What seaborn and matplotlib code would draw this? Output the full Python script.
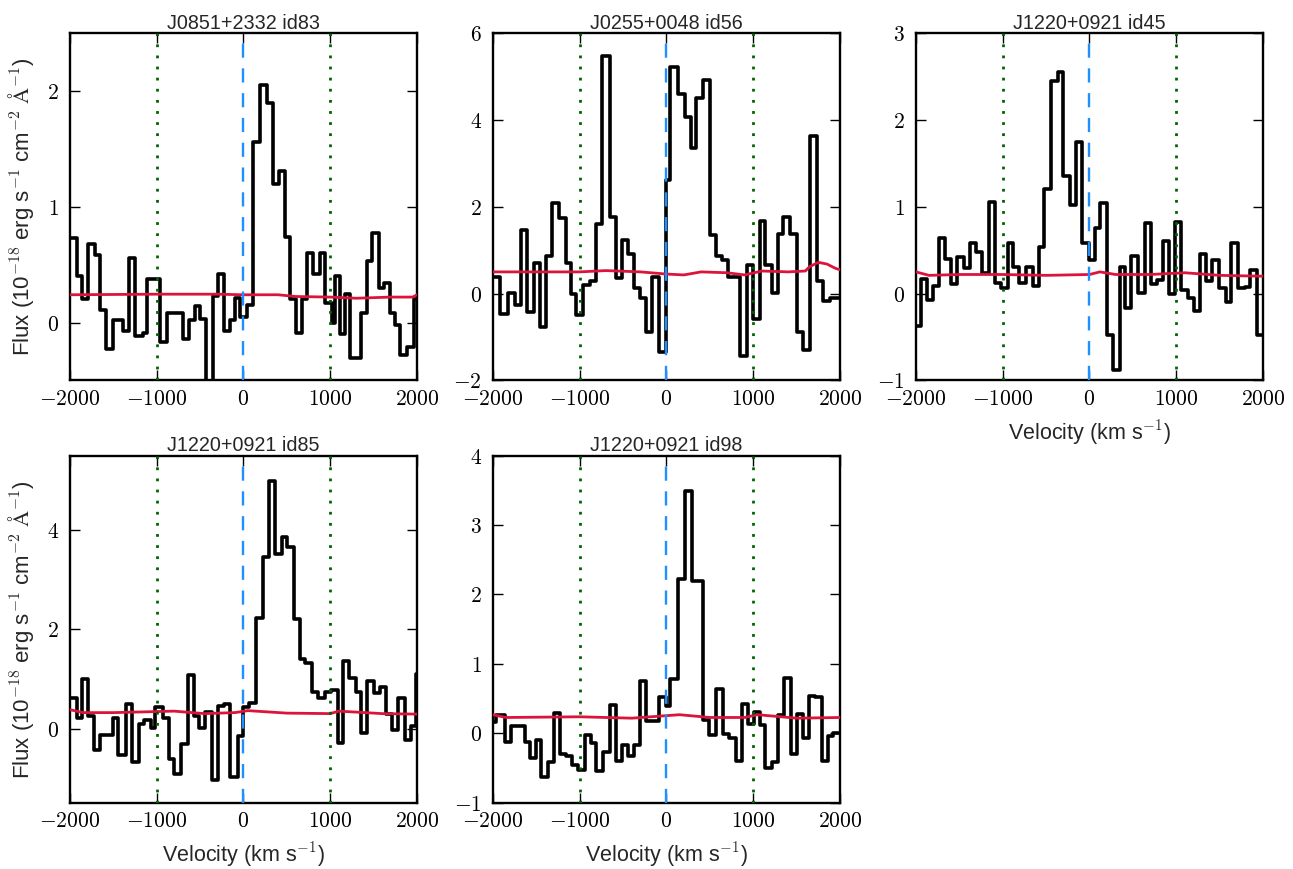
import numpy as np
import pandas as pd
import matplotlib
matplotlib.use("Agg")
import matplotlib.pyplot as plt
import matplotlib.ticker as mticker
import seaborn as sns

# ─────────────────────────────────────────────
# DATA
# ─────────────────────────────────────────────
titles = ["J0851+2332 id83", "J0255+0048 id56", "J1220+0921 id45",
          "J1220+0921 id85", "J1220+0921 id98"]
ylims = [(-0.5, 2.5), (-2, 6), (-1, 3), (-1.5, 5.5), (-1, 4)]
yticks = [[0, 1, 2], [-2, 0, 2, 4, 6], [-1, 0, 1, 2, 3], [0, 2, 4], [-1, 0, 1, 2, 3, 4]]
xticks = [-2000, -1000, 0, 1000, 2000]

# flux: left edge of each bin (km/s) and flux value
vel_83 = [-2000, -1915, -1865, -1788, -1712, -1654, -1585, -1508, -1385, -1315,
          -1250, -1162, -1108, -962, -885, -692, -623, -558, -500, -431,
          -346, -288, -223, -154, -96, -38, 38, 115, 185, 269,
          346, 404, 481, 538, 608, 673, 731, 800, 877, 942,
          1019, 1058, 1115, 1173, 1231, 1358, 1423, 1481, 1558, 1615,
          1692, 1750, 1808, 1885, 1962]
flux_83 = [0.73, 0.40, 0.20, 0.68, 0.58, 0.11, -0.23, 0.02, -0.07, 0.56,
           -0.12, -0.09, 0.38, -0.17, 0.08, -0.14, 0.02, 0.14, 0.03, -0.60,
           0.23, 0.42, -0.07, 0.02, 0.21, 0.05, 0.15, 1.56, 2.05, 1.90,
           1.20, 1.31, 0.74, 0.20, -0.09, 0.20, 0.60, 0.42, 0.60, 0.17,
           0.00, 0.40, -0.10, 0.25, -0.31, 0.08, 0.53, 0.77, 0.30, 0.34,
           0.08, -0.02, -0.28, -0.21, 0.20]

vel_56 = [-2000, -1923, -1827, -1750, -1673, -1604, -1527, -1462, -1392, -1315,
          -1238, -1162, -1096, -1038, -962, -885, -808, -738, -654, -585,
          -508, -442, -377, -308, -238, -162, -85, -5, 46, 135,
          212, 277, 346, 423, 500, 569, 635, 712, 846, 923,
          1000, 1077, 1135, 1212, 1288, 1346, 1423, 1500, 1569, 1654,
          1731, 1800, 1885]
flux_56 = [0.39, -0.46, 0.02, -0.26, 1.47, -0.43, 0.70, -0.76, 0.86, 2.09,
           1.74, 0.70, 0.00, -0.49, 0.20, 0.28, 1.61, 5.47, 1.77, 0.35,
           1.23, 0.92, 0.12, -0.09, -0.88, 0.39, -1.34, 2.61, 5.22, 4.60,
           4.07, 3.36, 4.50, 4.92, 1.36, 0.87, 0.78, 0.39, -1.44, 0.65,
           -0.59, 1.67, 0.65, 0.02, 1.37, 1.77, 1.37, -0.88, -1.29, 3.63,
           0.28, -0.16, -0.11]

vel_45 = [-2000, -1942, -1873, -1808, -1731, -1662, -1596, -1531, -1450, -1377,
          -1308, -1238, -1162, -1085, -1019, -942, -877, -808, -731, -654,
          -577, -519, -442, -365, -300, -223, -154, -85, -8, 58,
          123, 200, 269, 346, 415, 481, 558, 635, 712, 781,
          846, 915, 981, 1058, 1135, 1200, 1269, 1346, 1415, 1492,
          1569, 1635, 1712, 1788, 1846, 1931]
flux_45 = [-0.37, 0.17, -0.07, 0.09, 0.64, 0.40, 0.11, 0.42, 0.29, 0.58,
           0.48, 0.24, 1.06, 0.12, 0.07, 0.58, 0.31, 0.12, 0.31, 0.09,
           0.54, 1.20, 2.45, 2.55, 1.35, 1.02, 1.75, 0.58, 0.39, 0.75,
           1.04, -0.48, -0.88, 0.31, -0.17, 0.43, 0.01, 0.81, 0.11, 0.16,
           0.61, 0.00, 0.83, 0.04, -0.05, -0.20, 0.46, 0.15, 0.39, 0.07,
           -0.10, 0.58, 0.06, 0.08, 0.27, -0.48]

vel_85 = [-2000, -1923, -1865, -1796, -1719, -1650, -1508, -1450, -1354, -1285,
          -1208, -1142, -1065, -1015, -931, -862, -796, -719, -642, -573,
          -508, -438, -362, -288, -219, -150, -65, 0, 69, 146,
          223, 292, 369, 446, 500, 577, 646, 715, 792, 858,
          935, 1012, 1088, 1146, 1215, 1292, 1358, 1427, 1500, 1569,
          1646, 1715, 1781, 1858, 1935, 1992]
flux_85 = [0.61, 0.22, 1.00, 0.26, -0.44, -0.14, 0.22, -0.54, 0.49, -0.68,
           0.09, 0.17, 0.01, 0.44, 0.22, -0.61, -0.91, -0.32, 1.07, 0.26,
           0.01, 0.34, -1.03, 0.45, 0.49, -0.98, -0.16, 0.44, 0.51, 2.23,
           3.46, 4.98, 3.51, 3.86, 3.66, 2.20, 1.40, 1.32, 0.74, 0.62,
           0.73, 0.78, -0.30, 1.36, 1.01, 0.73, -0.10, 0.96, 0.71, 0.83,
           0.30, -0.03, 0.61, -0.24, 0.05, 1.10]

vel_98 = [-2000, -1962, -1865, -1788, -1635, -1577, -1508, -1442, -1365, -1300,
          -1231, -1154, -1085, -1019, -942, -873, -808, -731, -654, -585,
          -508, -442, -377, -300, -231, -85, -8, 38, 135, 212,
          296, 423, 492, 569, 646, 723, 800, 865, 942, 1008,
          1077, 1135, 1212, 1288, 1354, 1431, 1500, 1569, 1646, 1712,
          1788, 1865, 1923]
flux_98 = [0.17, 0.26, -0.12, 0.11, -0.12, -0.35, -0.10, -0.63, -0.41, 0.30,
           -0.29, -0.33, -0.45, -0.52, -0.02, -0.13, -0.54, -0.27, 0.41, -0.40,
           -0.17, -0.33, -0.17, 0.76, 0.18, 0.53, 0.39, 0.78, 2.22, 3.49,
           2.19, 0.20, -0.02, 0.64, -0.01, -0.07, -0.39, 0.42, 0.14, 0.31,
           0.12, -0.50, -0.41, 0.26, 0.80, -0.30, 0.28, -0.07, 0.54, 0.52,
           -0.39, -0.04, 0.00]

# noise spectra (red), sampled coarsely
noise_vel_83 = [-2000, -1000, -300, 0, 400, 600, 1000, 1300, 1700, 1950, 2000]
noise_83 = [0.24, 0.245, 0.245, 0.24, 0.24, 0.225, 0.22, 0.21, 0.22, 0.22, 0.24]

noise_vel_56 = [-2000, -1500, -1000, -700, -300, 0, 200, 400, 700, 900, 1100,
                1400, 1600, 1650, 1750, 1850, 1950, 2000]
noise_56 = [0.50, 0.50, 0.50, 0.53, 0.50, 0.45, 0.43, 0.50, 0.48, 0.43, 0.52,
            0.50, 0.52, 0.62, 0.72, 0.68, 0.58, 0.55]

noise_vel_45 = [-2000, -1850, -1500, -1000, -500, 0, 120, 300, 700, 1100, 1500, 2000]
noise_45 = [0.25, 0.21, 0.22, 0.22, 0.21, 0.22, 0.25, 0.22, 0.22, 0.24, 0.21, 0.20]

noise_vel_85 = [-2000, -1850, -1500, -800, -450, -100, 50, 500, 1000, 1100, 1600, 2000]
noise_85 = [0.38, 0.32, 0.32, 0.35, 0.30, 0.32, 0.36, 0.31, 0.30, 0.35, 0.30, 0.29]

noise_vel_98 = [-2000, -1850, -1000, -400, 150, 500, 900, 1050, 1500, 2000]
noise_98 = [0.27, 0.23, 0.24, 0.22, 0.27, 0.23, 0.23, 0.27, 0.22, 0.23]

spectra = [(vel_83, flux_83), (vel_56, flux_56), (vel_45, flux_45),
           (vel_85, flux_85), (vel_98, flux_98)]
noises = [(noise_vel_83, noise_83), (noise_vel_56, noise_56), (noise_vel_45, noise_45),
          (noise_vel_85, noise_85), (noise_vel_98, noise_98)]

# ─────────────────────────────────────────────
# STYLE
# ─────────────────────────────────────────────
sns.set_style("ticks")
plt.rcParams["font.family"] = ["Liberation Sans", "DejaVu Sans"]
plt.rcParams["mathtext.fontset"] = "cm"

YLABEL = r"Flux (10$^{-18}$ erg s$^{-1}$ cm$^{-2}$ $\mathrm{\AA}^{-1}$)"
XLABEL = r"Velocity (km s$^{-1}$)"

fig, axes = plt.subplots(2, 3, figsize=(12.93, 8.69), dpi=100)
fig.subplots_adjust(left=0.0541, right=0.9768, top=0.962, bottom=0.076,
                    wspace=0.219, hspace=0.216)
axes[1, 2].set_visible(False)
panels = [axes[0, 0], axes[0, 1], axes[0, 2], axes[1, 0], axes[1, 1]]

math_fmt = mticker.FuncFormatter(lambda v, p: f"${v:.0f}$")

for i, ax in enumerate(panels):
    vel, flux = spectra[i]
    df = pd.DataFrame({"v": np.append(vel, vel[-1] + 150),
                       "f": np.append(flux, flux[-1])})
    sns.lineplot(data=df, x="v", y="f", ax=ax, color="black", linewidth=2.6,
                 drawstyle="steps-post", estimator=None, sort=False, zorder=2)
    nv, nf = noises[i]
    sns.lineplot(x=nv, y=nf, ax=ax, color="#DC143C", linewidth=2.0,
                 estimator=None, sort=False, zorder=3)

    ax.axvline(0, color="#1E90FF", linewidth=1.7, dashes=(6, 4.5), zorder=4)
    for xv in (-1000, 1000):
        ax.axvline(xv, color="#006400", linewidth=2.0, dashes=(1, 3), zorder=4)

    ax.set_xlim(-2000, 2000)
    ax.set_ylim(*ylims[i])
    ax.set_xticks(xticks)
    ax.set_yticks(yticks[i])
    ax.xaxis.set_major_formatter(math_fmt)
    ax.yaxis.set_major_formatter(math_fmt)
    ax.tick_params(direction="in", length=7, width=1.0, top=True, right=True,
                   labelsize=15.5, colors="black")
    ax.tick_params(axis="x", pad=6)
    ax.tick_params(axis="y", pad=8)
    for sp in ax.spines.values():
        sp.set_visible(True)
        sp.set_linewidth(1.7)
        sp.set_color("black")

    ax.set_title(titles[i], fontsize=14.2, pad=3)
    ax.set_xlabel("")
    ax.set_ylabel("")
    if i in (0, 3):
        ax.set_ylabel(YLABEL, fontsize=16, labelpad=8)
    if i in (2, 3, 4):
        ax.set_xlabel(XLABEL, fontsize=15.5, labelpad=6)

fig.savefig("out.png", dpi=100)
